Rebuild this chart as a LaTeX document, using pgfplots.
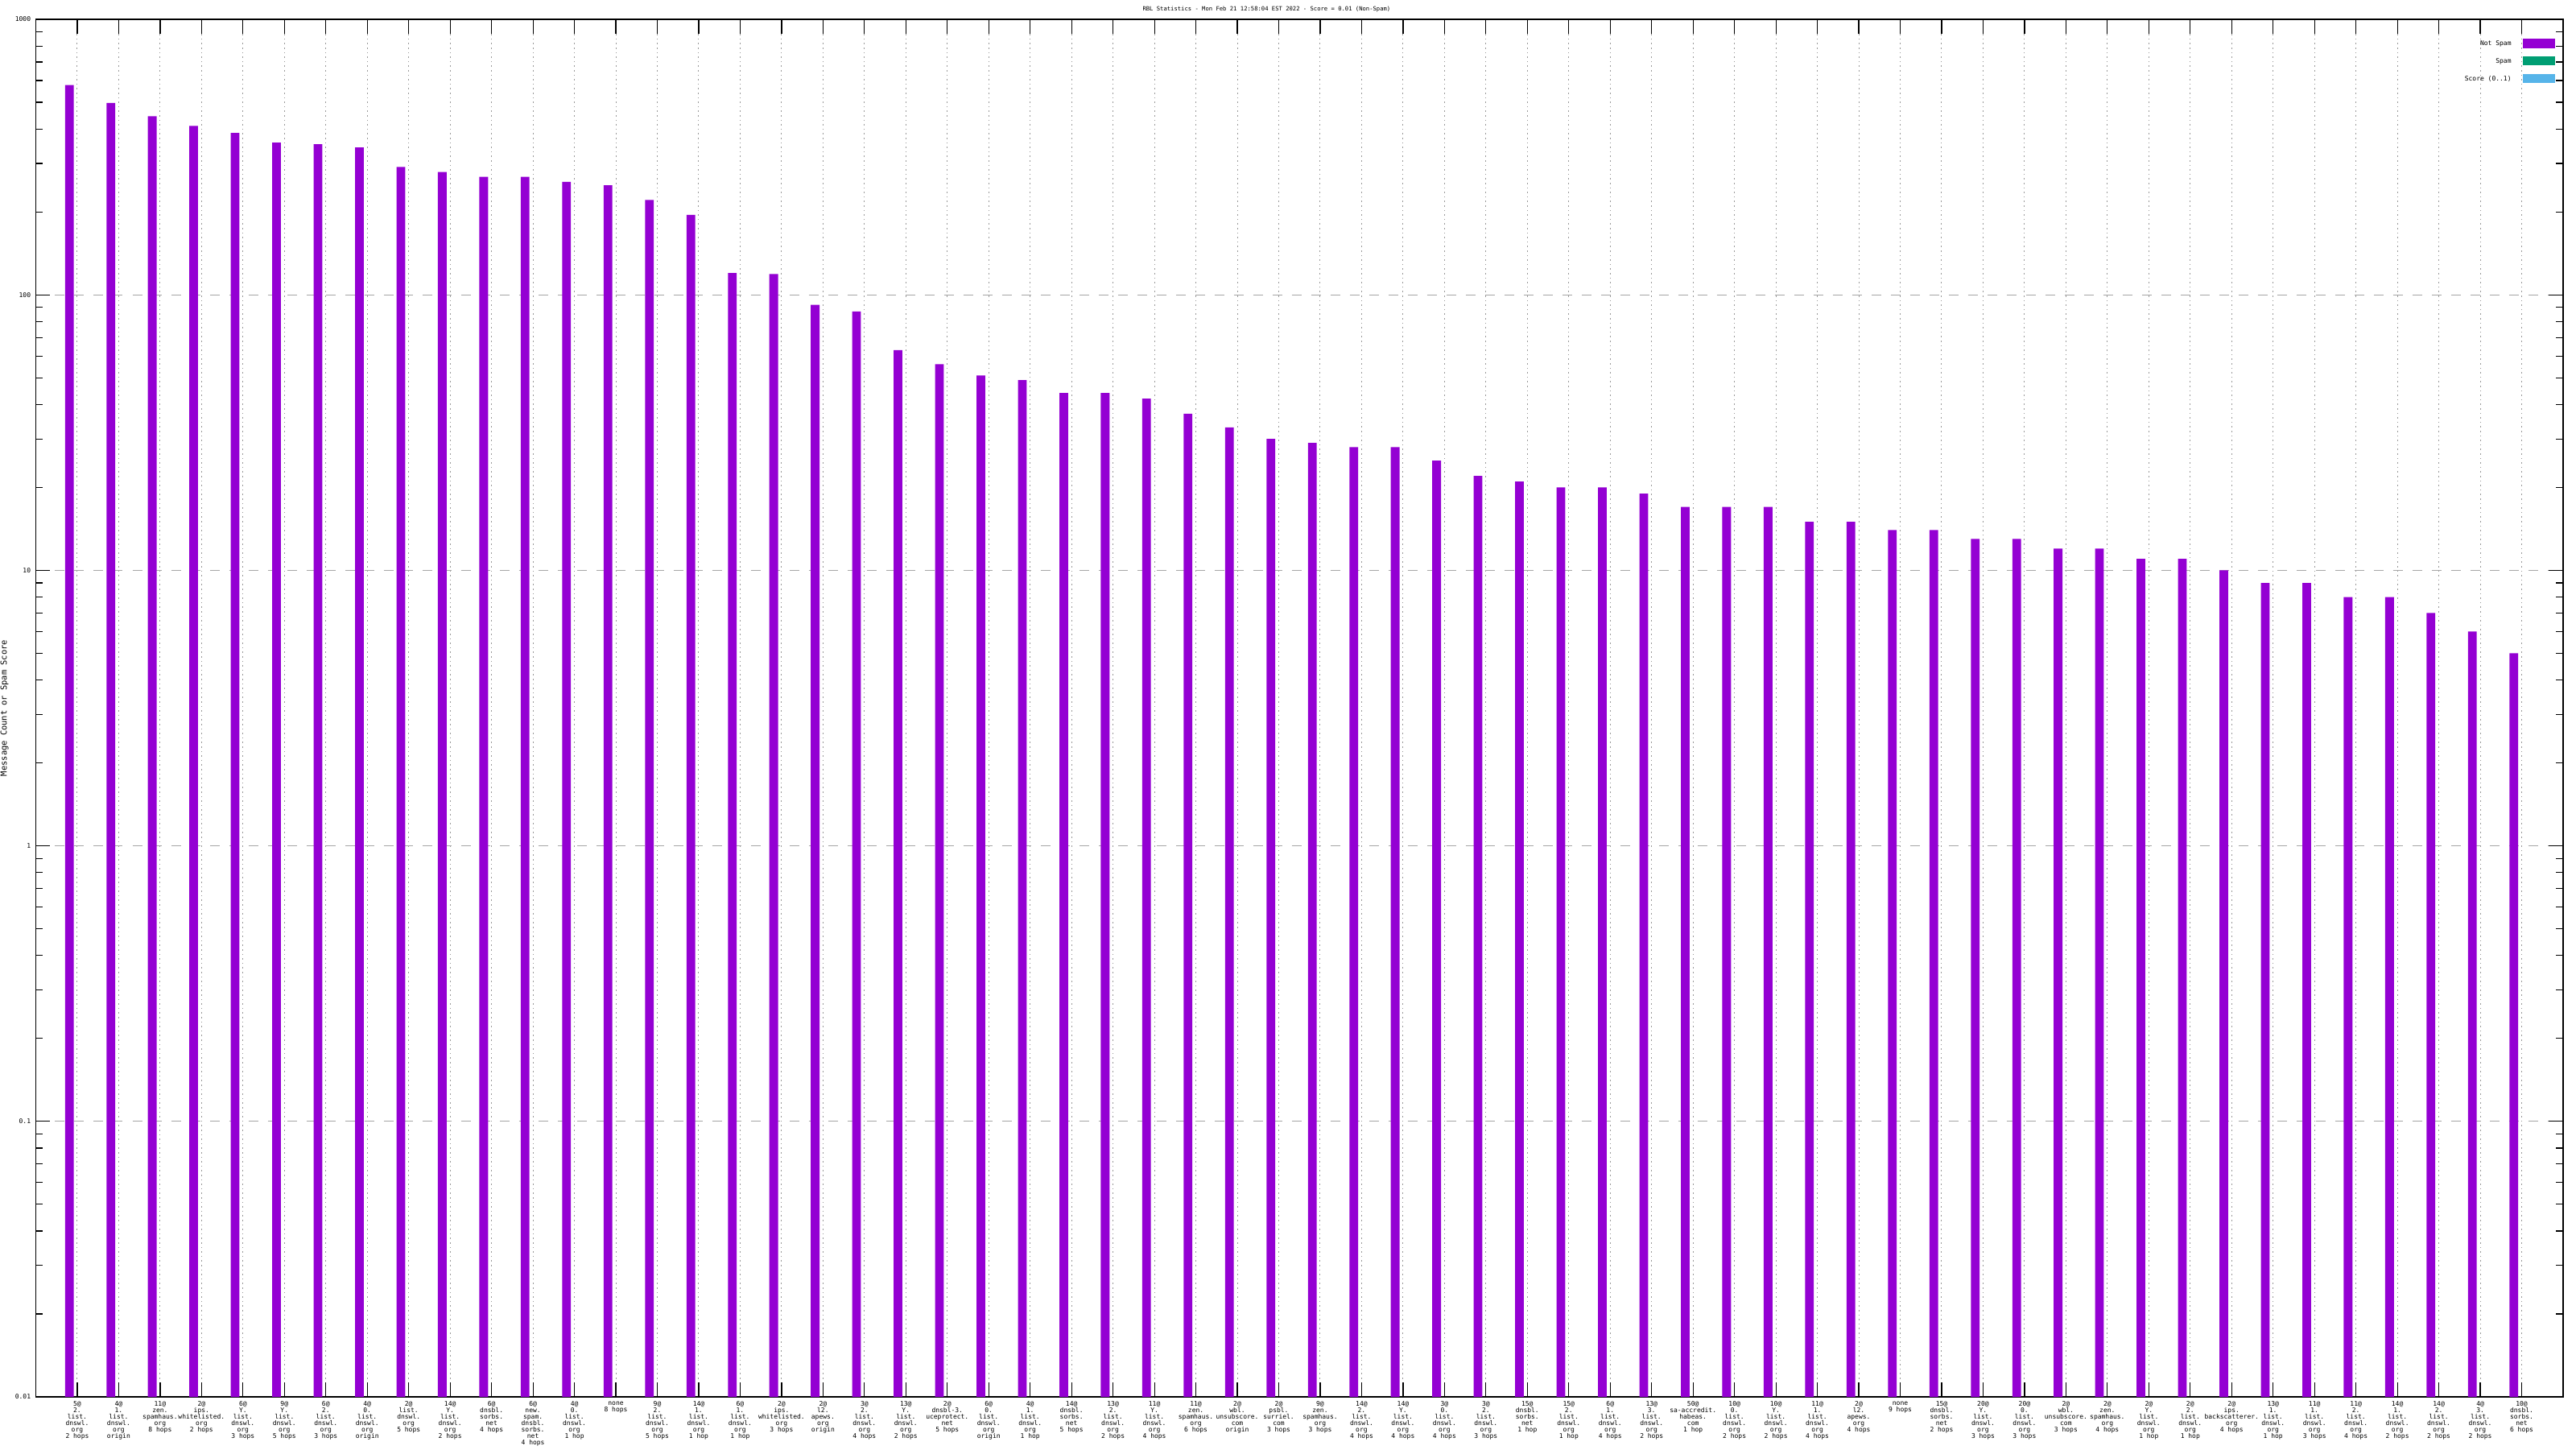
\documentclass[border=0pt]{standalone}
\usepackage{fontspec}
\usepackage{pgfplots}
\usepackage{pgfplotstable}
\pgfplotsset{compat=1.18}
\newfontfamily\gpfont{DejaVu Sans Mono}
\definecolor{notspam}{HTML}{9400D3}
\definecolor{spam}{HTML}{009E73}
\definecolor{score}{HTML}{56B4E9}
\pgfplotstableread{
x y
0 577
1 497
2 445
3 410
4 387
5 357
6 352
7 343
8 291
9 279
10 268
11 268
12 257
13 250
14 221
15 195
16 120
17 119
18 92
19 87
20 63
21 56
22 51
23 49
24 44
25 44
26 42
27 37
28 33
29 30
30 29
31 28
32 28
33 25
34 22
35 21
36 20
37 20
38 19
39 17
40 17
41 17
42 15
43 15
44 14
45 14
46 13
47 13
48 12
49 12
50 11
51 11
52 10
53 9
54 9
55 8
56 8
57 7
58 6
59 5
}\datatable
\begin{document}
\begin{tikzpicture}
\useasboundingbox (-11.125pt,-16.25pt) rectangle (788.875pt,433.75pt);
\begin{axis}[
  at={(0pt,0pt)}, anchor=south west,
  scale only axis,
  width=784.875pt, height=427.75pt,
  xmin=-1, xmax=60,
  ymode=log, ymin=0.01, ymax=1000,
  log origin y=infty,
  axis line style={line width=0.4pt},
  every tick/.style={black, line width=0.3pt},
  major tick length=4.4pt, minor tick length=2.2pt,
  xtick={0,...,59},
  xticklabels={
{5@\\2.\\list.\\dnswl.\\org\\2 hops},
{4@\\1.\\list.\\dnswl.\\org\\origin},
{11@\\zen.\\spamhaus.\\org\\8 hops},
{2@\\ips.\\whitelisted.\\org\\2 hops},
{6@\\Y.\\list.\\dnswl.\\org\\3 hops},
{9@\\Y.\\list.\\dnswl.\\org\\5 hops},
{6@\\2.\\list.\\dnswl.\\org\\3 hops},
{4@\\0.\\list.\\dnswl.\\org\\origin},
{2@\\list.\\dnswl.\\org\\5 hops},
{14@\\Y.\\list.\\dnswl.\\org\\2 hops},
{6@\\dnsbl.\\sorbs.\\net\\4 hops},
{6@\\new.\\spam.\\dnsbl.\\sorbs.\\net\\4 hops},
{4@\\0.\\list.\\dnswl.\\org\\1 hop},
{none\\8 hops},
{9@\\2.\\list.\\dnswl.\\org\\5 hops},
{14@\\1.\\list.\\dnswl.\\org\\1 hop},
{6@\\1.\\list.\\dnswl.\\org\\1 hop},
{2@\\ips.\\whitelisted.\\org\\3 hops},
{2@\\l2.\\apews.\\org\\origin},
{3@\\2.\\list.\\dnswl.\\org\\4 hops},
{13@\\Y.\\list.\\dnswl.\\org\\2 hops},
{2@\\dnsbl-3.\\uceprotect.\\net\\5 hops},
{6@\\0.\\list.\\dnswl.\\org\\origin},
{4@\\1.\\list.\\dnswl.\\org\\1 hop},
{14@\\dnsbl.\\sorbs.\\net\\5 hops},
{13@\\2.\\list.\\dnswl.\\org\\2 hops},
{11@\\Y.\\list.\\dnswl.\\org\\4 hops},
{11@\\zen.\\spamhaus.\\org\\6 hops},
{2@\\wbl.\\unsubscore.\\com\\origin},
{2@\\psbl.\\surriel.\\com\\3 hops},
{9@\\zen.\\spamhaus.\\org\\3 hops},
{14@\\2.\\list.\\dnswl.\\org\\4 hops},
{14@\\Y.\\list.\\dnswl.\\org\\4 hops},
{3@\\0.\\list.\\dnswl.\\org\\4 hops},
{3@\\2.\\list.\\dnswl.\\org\\3 hops},
{15@\\dnsbl.\\sorbs.\\net\\1 hop},
{15@\\2.\\list.\\dnswl.\\org\\1 hop},
{6@\\1.\\list.\\dnswl.\\org\\4 hops},
{13@\\3.\\list.\\dnswl.\\org\\2 hops},
{50@\\sa-accredit.\\habeas.\\com\\1 hop},
{10@\\0.\\list.\\dnswl.\\org\\2 hops},
{10@\\Y.\\list.\\dnswl.\\org\\2 hops},
{11@\\1.\\list.\\dnswl.\\org\\4 hops},
{2@\\l2.\\apews.\\org\\4 hops},
{none\\9 hops},
{15@\\dnsbl.\\sorbs.\\net\\2 hops},
{20@\\Y.\\list.\\dnswl.\\org\\3 hops},
{20@\\0.\\list.\\dnswl.\\org\\3 hops},
{2@\\wbl.\\unsubscore.\\com\\3 hops},
{2@\\zen.\\spamhaus.\\org\\4 hops},
{2@\\Y.\\list.\\dnswl.\\org\\1 hop},
{2@\\2.\\list.\\dnswl.\\org\\1 hop},
{2@\\ips.\\backscatterer.\\org\\4 hops},
{13@\\1.\\list.\\dnswl.\\org\\1 hop},
{11@\\1.\\list.\\dnswl.\\org\\3 hops},
{11@\\2.\\list.\\dnswl.\\org\\4 hops},
{14@\\1.\\list.\\dnswl.\\org\\2 hops},
{14@\\2.\\list.\\dnswl.\\org\\2 hops},
{4@\\3.\\list.\\dnswl.\\org\\2 hops},
{10@\\dnsbl.\\sorbs.\\net\\6 hops}},
  xticklabel style={anchor=north, inner sep=0pt, yshift=-1.25pt, align=center,
    font=\gpfont\fontsize{2}{2}\selectfont},
  ytick={0.01,0.1,1,10,100,1000},
  yticklabels={0.01,0.1,1,10,100,1000},
  yticklabel style={inner sep=0pt, xshift=-1.4pt, font=\gpfont\fontsize{2}{2}\selectfont},
  xmajorgrids, ymajorgrids,
  x grid style={densely dotted, gray!80, line width=0.25pt},
  y grid style={dashed, gray!70, line width=0.25pt},
  title={RBL Statistics - Mon Feb 21 12:58:04 EST 2022 - Score = 0.01 (Non-Spam)},
  every axis title/.style={at={(axis description cs:0.487,1)}, anchor=center, yshift=3pt,
    inner sep=0pt, font=\gpfont\fontsize{1.8}{2}\selectfont},
  ylabel={Message Count or Spam Score},
  every axis y label/.style={at={(axis description cs:0,0.5)}, xshift=-9.7pt, rotate=90,
    anchor=center, font=\gpfont\fontsize{2.6}{3}\selectfont},
  legend style={at={(1,1)}, anchor=north east, xshift=-2.25pt, yshift=-4.5pt,
    draw=none, fill=none, inner sep=0pt, row sep=-1.5pt, column sep=1.5pt,
    font=\gpfont\fontsize{2}{2}\selectfont},
  legend cell align=right,
  legend plot pos=right,
]
\addplot[ybar, bar width=0.21, bar shift=-0.19, fill=notspam, draw=none, forget plot]
  table[x=x, y=y] {\datatable};
\addlegendimage{legend image code/.code={\fill[notspam] (0pt,-0.5pt) rectangle (9.75pt,2pt);}}
\addlegendentry{Not Spam}
\addlegendimage{legend image code/.code={\fill[spam] (0pt,-0.5pt) rectangle (9.75pt,2pt);}}
\addlegendentry{Spam}
\addlegendimage{legend image code/.code={\fill[score] (0pt,-0.5pt) rectangle (9.75pt,2pt);}}
\addlegendentry{Score (0..1)}
\end{axis}
\end{tikzpicture}
\end{document}
